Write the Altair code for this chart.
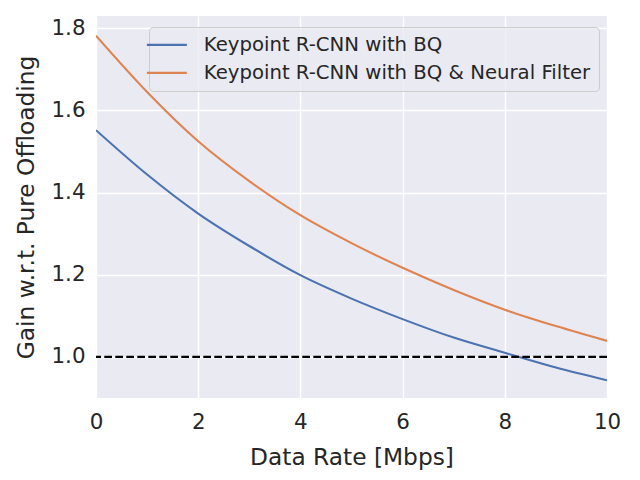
import altair as alt
import pandas as pd

rates = [0, 1, 2, 3, 4, 5, 6, 7, 8, 9, 10]
gain_bq = [1.552, 1.444, 1.349, 1.270, 1.199, 1.142, 1.092, 1.047, 1.010, 0.974, 0.943]
gain_bq_nf = [1.782, 1.645, 1.525, 1.428, 1.345, 1.277, 1.217, 1.163, 1.115, 1.075, 1.039]
series_names = ["Keypoint R-CNN with BQ", "Keypoint R-CNN with BQ & Neural Filter"]
series_colors = ["#4C72B0", "#DD8452"]
baseline = [1.0]

rows = []
for r, a, b in zip(rates, gain_bq, gain_bq_nf):
    rows.append({"rate": r, "gain": a, "series": series_names[0]})
    rows.append({"rate": r, "gain": b, "series": series_names[1]})
df = pd.DataFrame(rows)
df_base = pd.DataFrame({"y": baseline})

FONT = "DejaVu Sans"

lines = alt.Chart(df).mark_line(strokeWidth=2.1, interpolate="monotone", clip=True).encode(
    x=alt.X("rate:Q", title="Data Rate [Mbps]",
            scale=alt.Scale(domain=[0, 10], nice=False, zero=False),
            axis=alt.Axis(values=[0, 2, 4, 6, 8, 10], format="d", labelFlush=False)),
    y=alt.Y("gain:Q", title="Gain w.r.t. Pure Offloading",
            scale=alt.Scale(domain=[0.90, 1.83], nice=False, zero=False),
            axis=alt.Axis(values=[1.0, 1.2, 1.4, 1.6, 1.8], format=".1f")),
    color=alt.Color("series:N", sort=series_names,
                    scale=alt.Scale(domain=series_names, range=series_colors),
                    legend=alt.Legend(title=None, orient="none", legendX=53, legendY=11,
                                      symbolType="M-4,0H4", symbolSize=100, symbolStrokeWidth=2.1,
                                      labelFontSize=19.7, labelFont=FONT, labelColor="#262626",
                                      labelLimit=600, labelOffset=27, rowPadding=7,
                                      padding=8, fillColor="rgba(234,234,242,0.8)",
                                      strokeColor="#CCCCCC", cornerRadius=4)),
)

rule = alt.Chart(df_base).mark_rule(color="black", strokeWidth=2.1, strokeDash=[7.7, 3.3]).encode(
    y="y:Q"
)

chart = alt.layer(lines, rule).properties(
    width=511, height=382,
    autosize=alt.AutoSizeParams(type="none"),
    padding={"left": 88, "top": 8, "right": 25, "bottom": 80},
    background="white",
).configure_view(
    fill="#EAEAF2", stroke=None
).configure_axis(
    grid=True, gridColor="white", gridWidth=1.4, domain=False, ticks=False,
    labelFont=FONT, labelFontSize=21.4, labelColor="#262626",
    titleFont=FONT, titleFontSize=23.3, titleColor="#262626", titleFontWeight="normal",
).configure_axisX(
    labelPadding=13, titlePadding=14
).configure_axisY(
    labelPadding=11, titlePadding=12
)

chart.save("out.html", embed_options={"renderer": "svg", "actions": False})
